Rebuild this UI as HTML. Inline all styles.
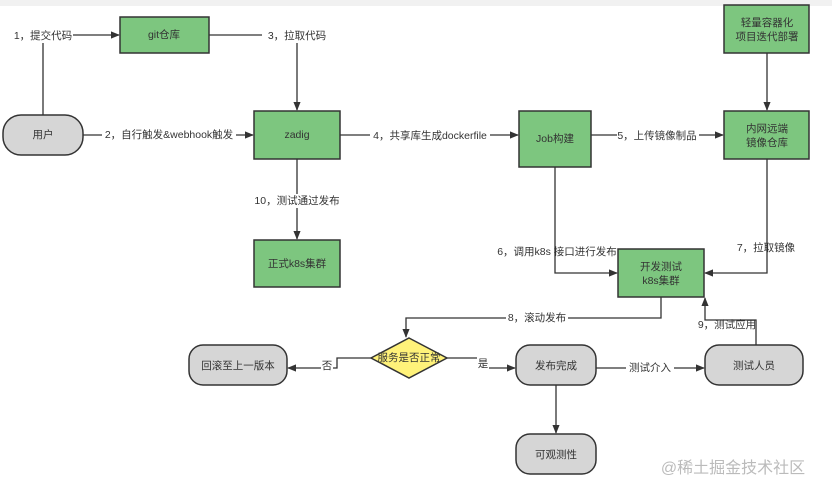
<!DOCTYPE html>
<html><head><meta charset="utf-8"><style>
body{margin:0;background:#fff;}
svg{display:block;font-family:"Liberation Sans","Noto Sans CJK SC",sans-serif;}
.g{fill:#7dc67f;stroke:#333;stroke-width:1.5}
.r{fill:#d6d6d6;stroke:#333;stroke-width:1.5}
.l{stroke:#333;stroke-width:1.3;fill:none}
text{font-size:10.5px;fill:#333;text-anchor:middle;dominant-baseline:middle}
.bg{fill:#fff}
</style></head><body>
<svg width="832" height="494" viewBox="0 0 832 494">
<defs><marker id="a" viewBox="0 0 10 10" refX="9" refY="5" markerWidth="7" markerHeight="7" orient="auto"><path d="M0,1 L10,5 L0,9 z" fill="#333"/></marker></defs>
<rect width="832" height="6" fill="#f1f1f1"/>
<!-- connectors -->
<path class="l" d="M43,115 V35 H119" marker-end="url(#a)"/>
<path class="l" d="M209,35 H297 V110" marker-end="url(#a)"/>
<path class="l" d="M83,135 H253" marker-end="url(#a)"/>
<path class="l" d="M340,135 H518" marker-end="url(#a)"/>
<path class="l" d="M297,159 V239" marker-end="url(#a)"/>
<path class="l" d="M591,135 H723" marker-end="url(#a)"/>
<path class="l" d="M767,53 V110" marker-end="url(#a)"/>
<path class="l" d="M555,167 V273 H617" marker-end="url(#a)"/>
<path class="l" d="M767,159 V273 H705" marker-end="url(#a)"/>
<path class="l" d="M661,297 V318 H406 V337" marker-end="url(#a)"/>
<path class="l" d="M756,345 V320 H705 V298" marker-end="url(#a)"/>
<path class="l" d="M371,358 H337 V368 H288" marker-end="url(#a)"/>
<path class="l" d="M447,358 H480 V368 H515" marker-end="url(#a)"/>
<path class="l" d="M596,368 H704" marker-end="url(#a)"/>
<path class="l" d="M556,385 V433" marker-end="url(#a)"/>
<!-- labels -->
<rect class="bg" x="13" y="29" width="60" height="14"/><text x="43" y="36">1，提交代码</text>
<rect class="bg" x="262" y="29" width="70" height="14"/><text x="297" y="36">3，拉取代码</text>
<rect class="bg" x="102" y="128" width="134" height="14"/><text x="169" y="135">2，自行触发&amp;webhook触发</text>
<rect class="bg" x="370" y="128" width="120" height="14"/><text x="430" y="136">4，共享库生成dockerfile</text>
<rect class="bg" x="617" y="128" width="82" height="14"/><text x="657" y="136">5，上传镜像制品</text>
<rect class="bg" x="253" y="194" width="88" height="14"/><text x="297" y="201">10，测试通过发布</text>
<text x="557" y="252">6，调用k8s 接口进行发布</text>
<text x="766" y="248">7，拉取镜像</text>
<rect class="bg" x="506" y="311" width="62" height="14"/><text x="537" y="318">8，滚动发布</text>
<text x="727" y="325">9，测试应用</text>
<rect class="bg" x="321" y="359" width="12" height="14"/><text x="327" y="366">否</text>
<rect class="bg" x="477" y="357" width="12" height="14"/><text x="483" y="364">是</text>
<rect class="bg" x="626" y="361" width="48" height="14"/><text x="650" y="368">测试介入</text>
<!-- nodes -->
<rect class="g" x="120" y="17" width="89" height="36"/><text x="164" y="35">git仓库</text>
<rect class="r" x="3" y="115" width="80" height="40" rx="18"/><text x="43" y="135">用户</text>
<rect class="g" x="254" y="111" width="86" height="48"/><text x="297" y="135">zadig</text>
<rect class="g" x="254" y="240" width="86" height="47"/><text x="297" y="264">正式k8s集群</text>
<rect class="g" x="519" y="111" width="72" height="56"/><text x="555" y="139">Job构建</text>
<rect class="g" x="724" y="5" width="85" height="48"/><text x="767" y="23">轻量容器化</text><text x="767" y="37">项目迭代部署</text>
<rect class="g" x="724" y="111" width="85" height="48"/><text x="767" y="129">内网远端</text><text x="767" y="143">镜像仓库</text>
<rect class="g" x="618" y="249" width="86" height="48"/><text x="661" y="267">开发测试</text><text x="661" y="281">k8s集群</text>
<polygon points="409,338 447,358 409,378 371,358" fill="#fff27a" stroke="#333" stroke-width="1.5"/><text x="409" y="358">服务是否正常</text>
<rect class="r" x="189" y="345" width="98" height="40" rx="14"/><text x="238" y="366">回滚至上一版本</text>
<rect class="r" x="516" y="345" width="80" height="40" rx="14"/><text x="556" y="366">发布完成</text>
<rect class="r" x="705" y="345" width="98" height="40" rx="14"/><text x="754" y="366">测试人员</text>
<rect class="r" x="516" y="434" width="80" height="40" rx="14"/><text x="556" y="455">可观测性</text>
<text x="733" y="469" style="font-size:16px;fill:#bbb">@稀土掘金技术社区</text>
</svg>
</body></html>
